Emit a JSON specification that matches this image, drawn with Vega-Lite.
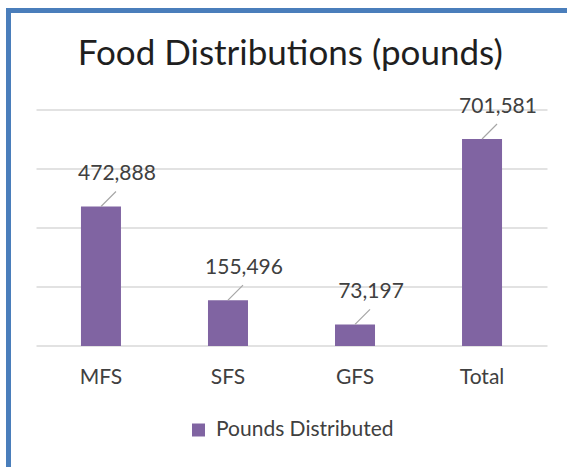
{
  "$schema": "https://vega.github.io/schema/vega-lite/v6.json",
  "width": 563.5,
  "height": 461.5,
  "autosize": {"type": "none"},
  "padding": {"left": 8.5, "top": 10.5, "right": -5, "bottom": -5},
  "background": "white",
  "config": {
    "view": {"stroke": "#4A7EBB", "strokeWidth": 5},
    "font": "Lato"
  },
  "title": {
    "text": "Food Distributions (pounds)",
    "font": "Lato",
    "fontSize": 35,
    "fontWeight": "normal",
    "color": "#1f1f1f",
    "baseline": "alphabetic",
    "anchor": "middle",
    "frame": "group",
    "offset": -89
  },
  "data": {
    "values": [
      {"site": "MFS", "pounds": 472888},
      {"site": "SFS", "pounds": 155496},
      {"site": "GFS", "pounds": 73197},
      {"site": "Total", "pounds": 701581}
    ]
  },
  "encoding": {
    "x": {
      "field": "site",
      "type": "nominal",
      "sort": null,
      "scale": {
        "domain": ["MFS", "SFS", "GFS", "Total"],
        "range": [27.5, 538.5],
        "paddingInner": 0.685,
        "paddingOuter": 0.354
      },
      "axis": {
        "title": null,
        "orient": "bottom",
        "offset": -126,
        "domain": false,
        "ticks": false,
        "tickSize": 0,
        "labelAngle": 0,
        "labelFont": "Lato",
        "labelFontSize": 21,
        "labelColor": "#404040",
        "labelBaseline": "alphabetic",
        "labelPadding": 37,
        "grid": false
      }
    },
    "y": {
      "field": "pounds",
      "type": "quantitative",
      "scale": {"domain": [-427119, 1137288], "nice": false, "zero": false},
      "axis": {
        "title": null,
        "labels": false,
        "ticks": false,
        "domain": false,
        "grid": true,
        "values": [0, 200000, 400000, 600000, 800000],
        "gridColor": "#d9d9d9",
        "gridWidth": 1.5
      }
    }
  },
  "layer": [
    {
      "mark": {"type": "bar"},
      "encoding": {
        "y2": {"datum": 0},
        "color": {
          "datum": "Pounds Distributed",
          "type": "nominal",
          "scale": {"range": ["#8064A2"]},
          "legend": {
            "title": null,
            "orient": "none",
            "legendX": 179.5,
            "legendY": 409,
            "symbolType": "square",
            "symbolSize": 169,
            "symbolStrokeWidth": 0,
            "labelFont": "Lato",
            "labelFontSize": 21,
            "labelColor": "#404040",
            "labelLimit": 400,
            "labelOffset": 7
          }
        }
      }
    },
    {
      "mark": {"type": "rule", "color": "#a6a6a6", "strokeWidth": 1.2, "x2Offset": 15, "y2Offset": -15},
      "encoding": {
        "x": {"field": "site", "type": "nominal", "bandPosition": 0.5},
        "x2": {"field": "site", "bandPosition": 0.5},
        "y2": {"field": "pounds"}
      }
    },
    {
      "mark": {
        "type": "text",
        "font": "Lato",
        "fontSize": 21,
        "color": "#404040",
        "align": "center",
        "baseline": "alphabetic",
        "dx": 16,
        "dy": -26.5
      },
      "encoding": {
        "text": {"field": "pounds", "type": "quantitative", "format": ","}
      }
    }
  ]
}
